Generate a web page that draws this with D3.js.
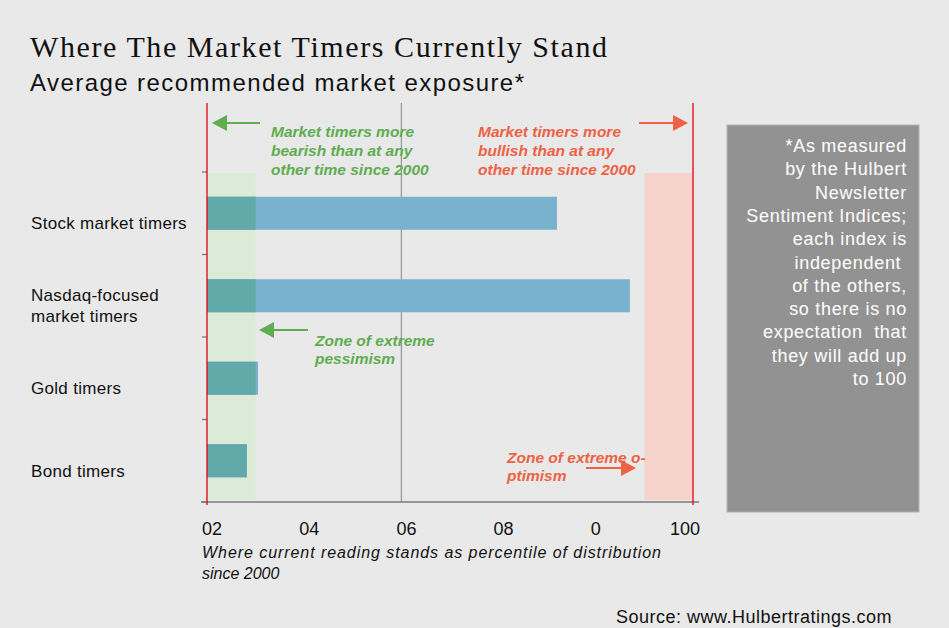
<!DOCTYPE html>
<html lang="en">
<head>
<meta charset="utf-8">
<title>Where The Market Timers Currently Stand</title>
<script src="https://cdn.jsdelivr.net/npm/d3@7"></script>
<style>
  body { margin: 0; background: #e9e9e9; }
  svg text { font-family: Arial, "Liberation Sans", sans-serif; }
</style>
</head>
<body>
<script>
// data
var categories = [["Stock market timers"], ["Nasdaq-focused", "market timers"], ["Gold timers"], ["Bond timers"]];
var values = [72, 87, 10.5, 8.2];
var tickValues = [0, 20, 40, 60, 80, 100];
var tickLabels = ["02", "04", "06", "08", "0", "100"];
var bearZone = [0, 10];
var bullZone = [90, 100];
var gridAt = 40;
var noteLines = ["*As measured", "by the Hulbert", "Newsletter", "Sentiment Indices;", "each index is",
  "independent ", "of the others,", "so there is no", "expectation  that", "they will add up", "to 100"];

var width = 949, height = 628;
var green = "#5fad50", red = "#ee6245";

var svg = d3.select("body").append("svg")
  .attr("width", width).attr("height", height)
  .style("display", "block");

svg.append("rect").attr("width", width).attr("height", height).attr("fill", "#e9e9e9");

var x = d3.scaleLinear().domain([0, 100]).range([207, 693]);
var y = d3.scaleBand().domain(d3.range(categories.length)).range([172, 502])
  .paddingInner(0.6).paddingOuter(0.3);
var yTop = 172, yBot = 502;

// titles
svg.append("text").attr("x", 30).attr("y", 57)
  .style("font-family", "'Liberation Serif', 'Times New Roman', serif")
  .style("font-size", "30px").attr("fill", "#111")
  .attr("textLength", 577).attr("lengthAdjust", "spacing")
  .text("Where The Market Timers Currently Stand");
svg.append("text").attr("x", 30).attr("y", 91)
  .style("font-size", "24px").attr("fill", "#111")
  .attr("textLength", 494).attr("lengthAdjust", "spacing")
  .text("Average recommended market exposure*");

// zones
svg.append("rect").attr("x", x(bearZone[0])).attr("width", x(bearZone[1]) - x(bearZone[0]))
  .attr("y", 173).attr("height", 500 - 173).attr("fill", "#dcebd7");
svg.append("rect").attr("x", x(bullZone[0])).attr("width", x(bullZone[1]) - x(bullZone[0]))
  .attr("y", 173).attr("height", 500 - 173).attr("fill", "#f6d4cc");

// grid line
svg.append("line").attr("x1", x(gridAt)).attr("x2", x(gridAt)).attr("y1", 103).attr("y2", yBot)
  .attr("stroke", "#9a9a9a").attr("stroke-width", 1.3);

// bars
svg.append("g").selectAll("rect").data(values).enter().append("rect")
  .attr("x", x(0)).attr("y", (d, i) => y(i))
  .attr("width", d => x(d) - x(0)).attr("height", y.bandwidth())
  .attr("fill", "#78b2ce");
svg.append("g").selectAll("rect").data(values).enter().append("rect")
  .attr("x", x(0)).attr("y", (d, i) => y(i))
  .attr("width", d => x(Math.min(d, bearZone[1])) - x(0)).attr("height", y.bandwidth())
  .attr("fill", "#62a9aa");

// axes lines
svg.append("line").attr("x1", 201).attr("x2", 699).attr("y1", yBot).attr("y2", yBot)
  .attr("stroke", "#7a7a7a").attr("stroke-width", 1.3);
var bandEdges = d3.range(categories.length + 1).map(i => yTop + i * y.step());
svg.append("g").selectAll("line").data(bandEdges).enter().append("line")
  .attr("x1", 202).attr("x2", 207).attr("y1", d => d).attr("y2", d => d)
  .attr("stroke", "#7a7a7a").attr("stroke-width", 1.3);

// red boundary lines
svg.append("g").selectAll("line").data([0, 100]).enter().append("line")
  .attr("x1", d => x(d)).attr("x2", d => x(d)).attr("y1", 103).attr("y2", 505)
  .attr("stroke", "#e3000f").attr("stroke-width", 1.3);

// category labels
var cat = svg.append("g").selectAll("text").data(categories).enter().append("text")
  .attr("x", 31)
  .attr("y", (d, i) => y(i) + y.bandwidth() / 2 + (d.length > 1 ? 5 : 16))
  .style("font-size", "17px").attr("fill", "#111");
cat.selectAll("tspan").data(d => d).enter().append("tspan")
  .attr("x", 31).attr("dy", (d, i) => i ? 21 : 0)
  .attr("letter-spacing", "0.3px")
  .text(d => d);

// tick labels
svg.append("g").selectAll("text").data(tickValues).enter().append("text")
  .attr("x", (d, i) => i === tickValues.length - 1 ? x(d) + 7 : x(d) - 5)
  .attr("y", 535)
  .attr("text-anchor", (d, i) => i === tickValues.length - 1 ? "end" : "start")
  .style("font-size", "18px").attr("fill", "#111")
  .text((d, i) => tickLabels[i]);

// axis title
svg.append("text").attr("x", 202).attr("y", 558)
  .style("font-size", "16px").style("font-style", "italic").attr("fill", "#111")
  .attr("textLength", 459).attr("lengthAdjust", "spacing")
  .text("Where current reading stands as percentile of distribution");
svg.append("text").attr("x", 202).attr("y", 579)
  .style("font-size", "16px").style("font-style", "italic").attr("fill", "#111")
  .text("since 2000");

// annotations
function note(lines, x0, y0, color, lh) {
  var t = svg.append("text").attr("x", x0).attr("y", y0)
    .style("font-size", "15.5px").style("font-weight", "bold").style("font-style", "italic")
    .attr("fill", color);
  t.selectAll("tspan").data(lines).enter().append("tspan")
    .attr("x", x0).attr("dy", (d, i) => i ? lh : 0).text(d => d);
}
function arrow(x1, x2, yy, color) {
  var dir = x2 > x1 ? 1 : -1;
  svg.append("line").attr("x1", x1).attr("x2", x2 - dir * 14).attr("y1", yy).attr("y2", yy)
    .attr("stroke", color).attr("stroke-width", 2);
  svg.append("path")
    .attr("d", `M${x2},${yy} L${x2 - dir * 15},${yy - 8} L${x2 - dir * 15},${yy + 8} Z`)
    .attr("fill", color);
}
note(["Market timers more", "bearish than at any", "other time since 2000"], 271, 137, green, 19);
note(["Market timers more", "bullish than at any", "other time since 2000"], 478, 137, red, 19);
note(["Zone of extreme", "pessimism"], 315, 346, green, 18);
note(["Zone of extreme o-", "ptimism"], 507, 463, red, 18);
arrow(260, 212, 123, green);
arrow(639, 688, 123, red);
arrow(308, 259, 330, green);
arrow(586, 636, 468, red);

// side note box
svg.append("rect").attr("x", 727).attr("y", 125).attr("width", 192).attr("height", 387)
  .attr("fill", "#939292").attr("stroke", "#b3b3b3").attr("stroke-width", 1);
svg.append("g").selectAll("text").data(noteLines).enter().append("text")
  .attr("x", 907).attr("y", (d, i) => 152 + i * 23.3)
  .attr("text-anchor", "end")
  .style("font-size", "18px").style("white-space", "pre")
  .attr("letter-spacing", "0.7px")
  .attr("fill", "#fff").text(d => d);

// source
svg.append("text").attr("x", 892).attr("y", 623).attr("text-anchor", "end")
  .style("font-size", "18px").attr("fill", "#111")
  .attr("letter-spacing", "0.5px")
  .text("Source: www.Hulbertratings.com");
</script>
</body>
</html>
